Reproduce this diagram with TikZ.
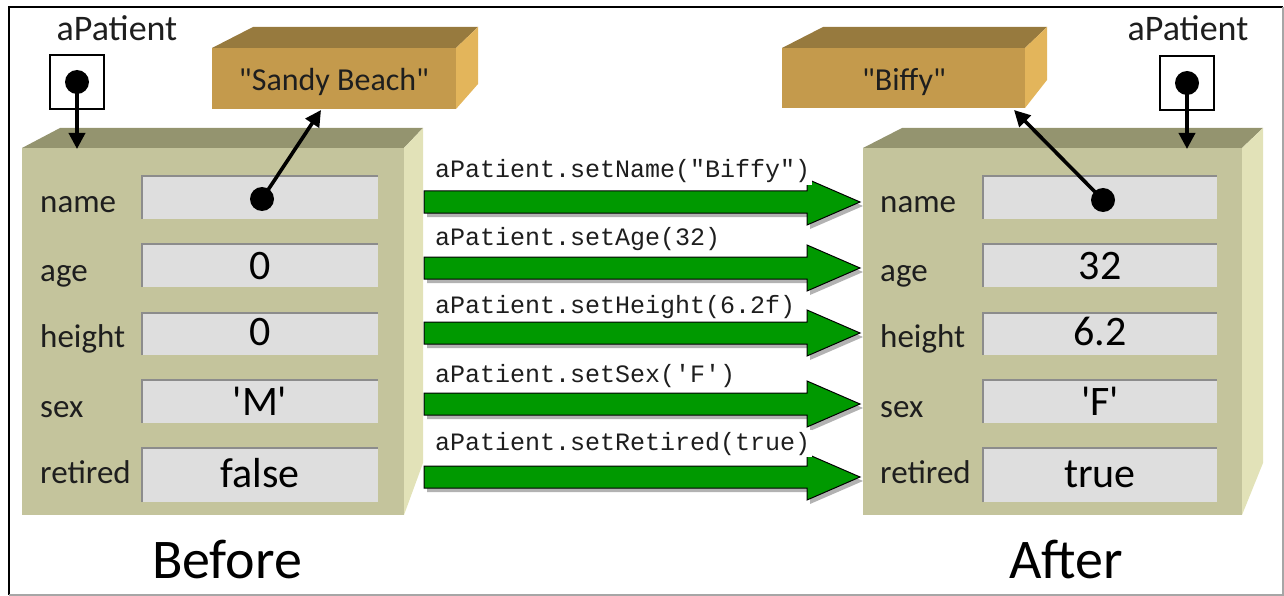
\documentclass[tikz,border=0pt]{standalone}
\usepackage{fontspec}
\setmainfont{Carlito}
\setmonofont{Liberation Mono}
\usetikzlibrary{arrows.meta,shadows}

\definecolor{objfront}{HTML}{C4C49C}
\definecolor{objtop}{HTML}{94946F}
\definecolor{objside}{HTML}{E2E2B8}
\definecolor{strfront}{HTML}{C49A4C}
\definecolor{strtop}{HTML}{977A3E}
\definecolor{strside}{HTML}{E3B55B}
\definecolor{fieldfill}{HTML}{DEDEDE}
\definecolor{fieldrimcol}{HTML}{8C8C8C}
\definecolor{callgreen}{HTML}{009900}
\definecolor{ink}{HTML}{1E1E1E}

% one green "method call" arrow: #1 name, #2 vertical centre
\newcommand{\callarrow}[2]{%
  \coordinate (#1-tail) at (424,#2);
  \coordinate (#1-tip) at (860,#2);
  \path[fatarrow] (424,#2-11) -- (807,#2-11) -- (807,#2-23) -- (#1-tip)
    -- (807,#2+23) -- (807,#2+11) -- (424,#2+11) -- cycle;}

\begin{document}
\begin{tikzpicture}[x=1pt,y=-1pt,
  fieldbox/.style={fill=fieldfill, minimum width=236pt, inner sep=0pt},
  fieldrim/.style={draw=fieldrimcol, line width=1.6pt},
  fieldlbl/.style={anchor=base west, inner sep=0pt, text=ink,
    font=\fontsize{33}{40}\selectfont},
  fieldval/.style={anchor=base, inner sep=0pt, text=black,
    font=\fontsize{42}{50}\selectfont},
  strlbl/.style={anchor=base, inner sep=0pt, text=ink,
    font=\fontsize{32}{38}\selectfont},
  varlbl/.style={anchor=base, inner sep=0pt, text=ink,
    font=\fontsize{36}{42}\selectfont},
  caption/.style={anchor=base, inner sep=0pt, text=black,
    font=\fontsize{56}{64}\selectfont},
  refbox/.style={draw=black, line width=1.3pt, minimum size=54pt, inner sep=0pt},
  refdot/.style={circle, fill=black, minimum size=24pt, inner sep=0pt},
  ptr/.style={-{Triangle[length=16pt,width=16pt]}, line width=3.6pt, black},
  fatarrow/.style={fill=callgreen, draw=black, line width=1pt,
    drop shadow={shadow xshift=3pt, shadow yshift=-4pt, fill=black, opacity=0.3}},
  calllbl/.style={anchor=base west, fill=white, inner xsep=2pt, inner ysep=2pt,
    text=ink, font=\ttfamily\fontsize{25}{30}\selectfont},
]
\useasboundingbox (0,0) rectangle (1284,596);

% frame
\draw[black, line width=1.5pt] (9,595) -- (9,7) -- (1283,7);
\draw[black!35, line width=1.5pt] (1283,7) -- (1283,595) -- (9,595);

% ---------- object block, before ----------
\fill[objfront] (22,148) rectangle (404,515);
\fill[objtop] (22,148) -- (60,128) -- (423,128) -- (404,148) -- cycle;
\fill[objside] (404,148) -- (423,128) -- (423,463) -- (404,515) -- cycle;

% ---------- object block, after ----------
\fill[objfront] (863,148) rectangle (1242,515);
\fill[objtop] (863,148) -- (902,128) -- (1263,128) -- (1242,148) -- cycle;
\fill[objside] (1242,148) -- (1263,128) -- (1263,463) -- (1242,515) -- cycle;

% ---------- string blocks ----------
\fill[strfront] (212,48) rectangle (456,109);
\fill[strtop] (212,48) -- (253,27) -- (478,27) -- (456,48) -- cycle;
\fill[strside] (456,48) -- (478,27) -- (478,84) -- (456,109) -- cycle;
\node[strlbl] (lstr) at (334,91) {\textquotedbl Sandy Beach\textquotedbl};

\fill[strfront] (782,48) rectangle (1025,108);
\fill[strtop] (782,48) -- (823,27) -- (1047,27) -- (1025,48) -- cycle;
\fill[strside] (1025,48) -- (1047,27) -- (1047,80) -- (1025,108) -- cycle;
\node[strlbl] (rstr) at (904,91) {\textquotedbl Biffy\textquotedbl};

% ---------- fields, before ----------
\node[fieldbox, minimum height=43pt] (lf-name) at (260,197.5) {};
\node[fieldbox, minimum height=43pt] (lf-age) at (260,265.5) {};
\node[fieldbox, minimum height=42pt] (lf-height) at (260,334) {};
\node[fieldbox, minimum height=43pt] (lf-sex) at (260,401.5) {};
\node[fieldbox, minimum height=54pt] (lf-ret) at (260,475) {};

% ---------- fields, after ----------
\node[fieldbox, minimum height=43pt, minimum width=234pt] (rf-name) at (1100,197.5) {};
\node[fieldbox, minimum height=43pt, minimum width=234pt] (rf-age) at (1100,265.5) {};
\node[fieldbox, minimum height=42pt, minimum width=234pt] (rf-height) at (1100,334) {};
\node[fieldbox, minimum height=43pt, minimum width=234pt] (rf-sex) at (1100,401.5) {};
\node[fieldbox, minimum height=54pt, minimum width=234pt] (rf-ret) at (1100,475) {};

\foreach \f in {lf-name,lf-age,lf-height,lf-sex,lf-ret,rf-name,rf-age,rf-height,rf-sex,rf-ret}
  \draw[fieldrim] (\f.south west) -- (\f.north west) -- (\f.north east);

% field names
\node[fieldlbl] (ll-name) at (40,212) {name};
\node[fieldlbl] (ll-age) at (40,281) {age};
\node[fieldlbl] (ll-height) at (40,347) {height};
\node[fieldlbl] (ll-sex) at (40,417) {sex};
\node[fieldlbl] (ll-ret) at (40,483) {retired};

\node[fieldlbl] (rl-name) at (880,212) {name};
\node[fieldlbl] (rl-age) at (880,281) {age};
\node[fieldlbl] (rl-height) at (880,347) {height};
\node[fieldlbl] (rl-sex) at (880,417) {sex};
\node[fieldlbl] (rl-ret) at (880,483) {retired};

% field values
\node[fieldval] (lv-age) at (260,279) {0};
\node[fieldval] (lv-height) at (260,345) {0};
\node[fieldval] (lv-sex) at (260,415) {\textquotesingle M\textquotesingle};
\node[fieldval] (lv-ret) at (260,487) {false};

\node[fieldval] (rv-age) at (1100,279) {32};
\node[fieldval] (rv-height) at (1100,345) {6.2};
\node[fieldval] (rv-sex) at (1100,415) {\textquotesingle F\textquotesingle};
\node[fieldval] (rv-ret) at (1100,487) {true};

% ---------- method calls ----------
\callarrow{c1}{202}
\callarrow{c2}{268}
\callarrow{c3}{333}
\callarrow{c4}{404}
\callarrow{c5}{477}

\node[calllbl] (l1) at (433,178) {aPatient.setName(\textquotedbl Biffy\textquotedbl)};
\node[calllbl] (l2) at (433,245) {aPatient.setAge(32)};
\node[calllbl] (l3) at (433,313) {aPatient.setHeight(6.2f)};
\node[calllbl] (l4) at (433,382) {aPatient.setSex(\textquotesingle F\textquotesingle)};
\node[calllbl] (l5) at (433,450) {aPatient.setRetired(true)};

% ---------- references ----------
\node[varlbl] (lvar) at (117,41) {aPatient};
\node[refbox] (lref) at (77,82) {};
\node[refdot] (ldot) at (77,82) {};
\coordinate (lobj) at (77,149);
\draw[ptr] (ldot.center) -- (lobj);

\node[varlbl] (rvar) at (1188,41) {aPatient};
\node[refbox] (rref) at (1187,83) {};
\node[refdot] (rdot) at (1187,83) {};
\coordinate (robj) at (1187,149);
\draw[ptr] (rdot.center) -- (robj);

\node[refdot] (lndot) at (262,199) {};
\coordinate (lstrin) at (321,110);
\draw[ptr] (lndot.center) -- (lstrin);

\node[refdot] (rndot) at (1103,200) {};
\coordinate (rstrin) at (1014,110);
\draw[ptr] (rndot.center) -- (rstrin);

% captions
\node[caption] (before) at (227,578) {Before};
\node[caption] (after) at (1066,578) {After};
\end{tikzpicture}
\end{document}
